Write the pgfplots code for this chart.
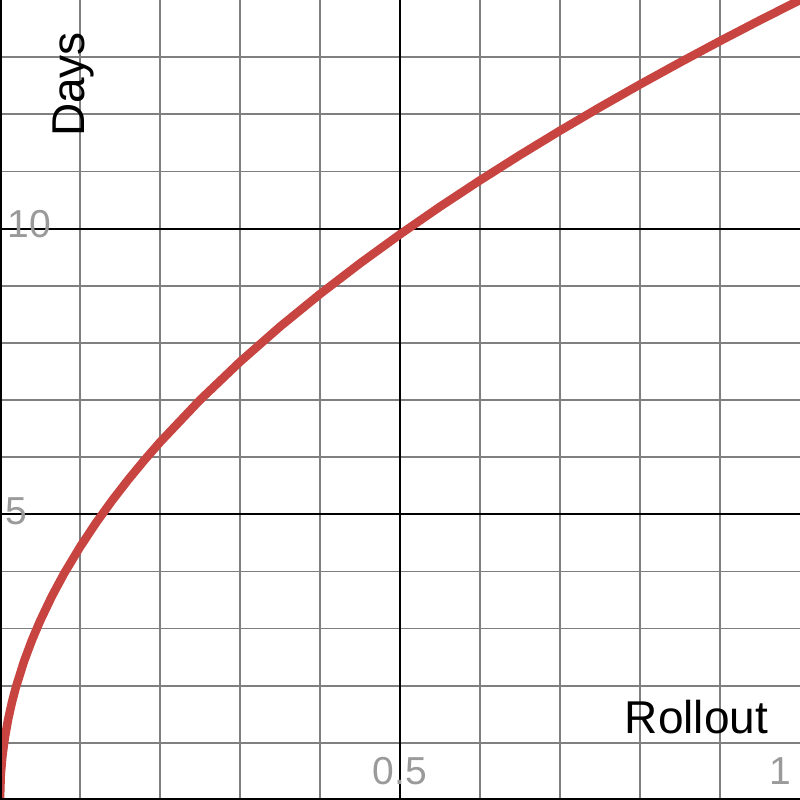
\documentclass[border=0pt]{standalone}
\usepackage{fontspec}
\setmainfont{Liberation Sans}
\usepackage{pgfplots}
\pgfplotsset{compat=1.18}

\definecolor{curvered}{HTML}{C74440}
\definecolor{gridgray}{HTML}{7F7F7F}
\definecolor{labelgray}{HTML}{9A9A9A}

\newcommand{\numfont}{\fontsize{39}{41}\selectfont}
\newcommand{\titlefont}{\fontsize{46}{50}\selectfont}

\begin{document}
\begin{tikzpicture}
\begin{axis}[
  scale only axis,
  width=800pt, height=800pt,
  xmin=0, xmax=1, ymin=0, ymax=14,
  axis line style={draw=none},
  xtick={0.1,0.2,0.3,0.4,0.6,0.7,0.8,0.9},
  ytick={1,2,3,4,6,7,8,9,11,12,13},
  xticklabels={}, yticklabels={},
  major tick length=0pt,
  grid=major,
  major grid style={gridgray, line width=1.6pt},
  extra x ticks={0.5},
  extra y ticks={5,10},
  extra x tick labels={}, extra y tick labels={},
  extra tick style={grid=major, major grid style={black, line width=2pt}},
]
% y = days
\addplot[curvered, line width=8.5pt, line join=round] coordinates {
  (0,0) (0.001,0.443) (0.003,0.767) (0.006,1.084) (0.01,1.4)
  (0.015,1.715) (0.02,1.980) (0.03,2.425) (0.04,2.8) (0.05,3.130)
  (0.065,3.569) (0.08,3.960) (0.1,4.427) (0.12,4.850) (0.14,5.238)
  (0.16,5.6) (0.18,5.940) (0.2,6.261) (0.25,7.0) (0.3,7.668)
  (0.35,8.283) (0.4,8.854) (0.45,9.391) (0.5,9.899) (0.55,10.383)
  (0.6,10.844) (0.65,11.287) (0.7,11.713) (0.75,12.124) (0.8,12.522)
  (0.85,12.907) (0.9,13.282) (0.95,13.646) (1.0,14.0)
};
% axes along left and bottom edges
\draw[black, line width=3pt] (axis cs:0,0) -- (axis cs:0,14);
\draw[black, line width=3pt] (axis cs:0,0) -- (axis cs:1,0);
% tick numbers
\node[anchor=base, labelgray, inner sep=0pt, font=\numfont] at (axis cs:0.5,0.2625) {0.5};
\node[anchor=base, labelgray, inner sep=0pt, font=\numfont] at (axis cs:0.976,0.2625) {1};
\node[anchor=base, labelgray, inner sep=0pt, font=\numfont] at (axis cs:0.0363,9.835) {10};
\node[anchor=base, labelgray, inner sep=0pt, font=\numfont] at (axis cs:0.021,4.813) {5};
% axis titles
\node[anchor=base, black, inner sep=0pt, font=\titlefont] at (axis cs:0.8706,1.155) {Rollout};
\node[anchor=center, black, inner sep=0pt, rotate=90, font=\titlefont] at (axis cs:0.0913,12.52) {Days};
\end{axis}
\pgfresetboundingbox
\useasboundingbox (0,0) rectangle (800pt,800pt);
\end{tikzpicture}
\end{document}
